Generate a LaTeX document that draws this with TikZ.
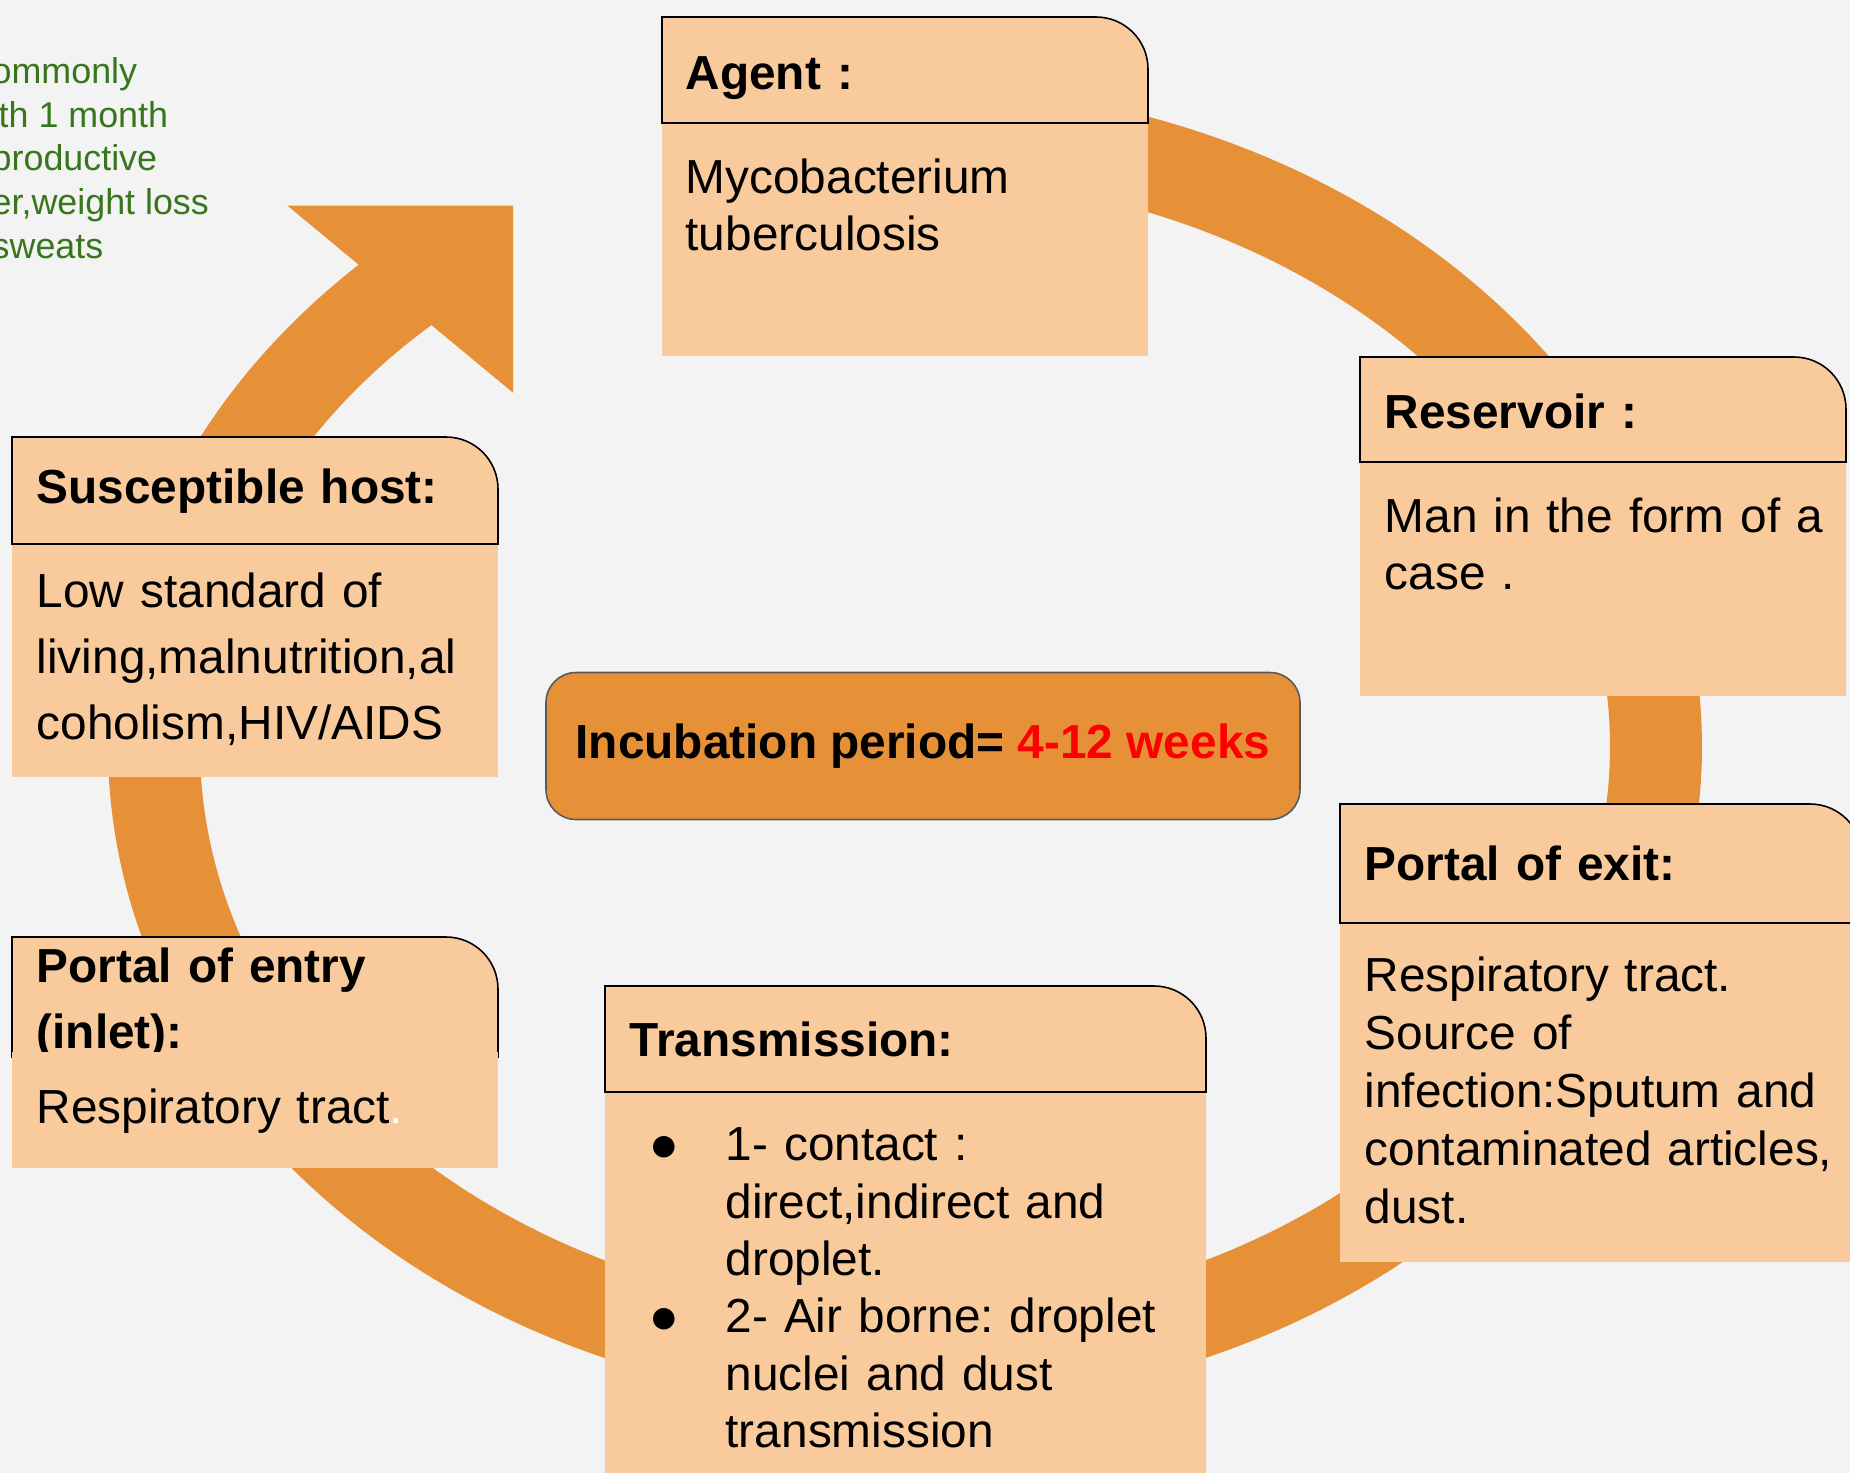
\documentclass[tikz,border=0pt]{standalone}
\usepackage{fontspec}
\setmainfont{Liberation Sans}
\newfontfamily\dingfont{DejaVu Sans}
\usepackage{tikz}

\definecolor{ringorange}{HTML}{E69138}
\definecolor{peach}{HTML}{F9CB9C}
\definecolor{pagegray}{HTML}{F3F3F3}
\definecolor{notegreen}{HTML}{38761D}
\definecolor{edgegray}{HTML}{595959}

\frenchspacing
\newcommand\cardfont{\fontsize{13.6}{16.3}\selectfont}
\newcommand\loosefont{\fontsize{13.6}{18.7}\selectfont}
\newcommand\bull{\makebox[7.4mm][l]{\raisebox{0.6mm}{\dingfont\fontsize{8}{8}\selectfont ●}}}
\newcommand\ind{\hspace*{7.4mm}}

% header strip of a card, only the top right corner is round
\newcommand\cardhead[4]{%
  \filldraw[cardline] (#1,#2+#4) -- (#1,#2) -- (#1+#3-52,#2)
    arc[start angle=90, end angle=0, radius=5.2mm] -- (#1+#3,#2+#4) -- cycle;}

\begin{document}
\begin{tikzpicture}[
  x=0.1mm, y=-0.1mm,
  ring/.style={draw=ringorange, line width=9.2mm},
  cardline/.style={draw=black, line width=0.45pt, fill=peach},
  cardbody/.style={fill=peach},
  cardtxt/.style={anchor=north west, inner sep=0pt, align=left,
                  text width=55mm, font=\cardfont,
                  execute at begin node={\rule{0pt}{4mm}}},
  cardtitle/.style={cardtxt, font=\cardfont\bfseries},
  incub/.style={draw=edgegray, line width=0.45pt, fill=ringorange,
                rounded corners=3mm, minimum width=75.4mm,
                minimum height=14.7mm, font=\cardfont\bfseries},
  note/.style={anchor=north west, inner sep=0pt, align=left,
               text=notegreen, font=\fontsize{10.2}{12.4}\selectfont,
               execute at begin node={\rule{0pt}{3mm}}}
]
  \useasboundingbox (0,0) rectangle (1850,1473);
  \clip (0,0) rectangle (1850,1473);
  \fill[pagegray] (0,0) rectangle (1850,1473);

  % the cycle with its arrow head
  \draw[ring] (839.5,133.8) arc[start angle=95, end angle=-230,
                                 x radius=75.1mm, y radius=61.45mm];
  \fill[ringorange] (287.5,205.7) -- (513,205.7) -- (513,392.7) -- cycle;

  % agent
  \cardhead{662}{17}{486}{106}
  \fill[cardbody] (662,124) rectangle (1148,356);
  \node[cardtitle] (agent) at (685,49) {Agent :};
  \node[cardtxt] (agenttxt) at (685,153) {Mycobacterium\\tuberculosis};

  % reservoir
  \cardhead{1360}{357}{486}{105}
  \fill[cardbody] (1360,463) rectangle (1846,696);
  \node[cardtitle] (reservoir) at (1384,388) {Reservoir :};
  \node[cardtxt] (reservoirtxt) at (1384,492) {Man in the form of a\\case .};

  % portal of exit
  \cardhead{1340}{804}{522}{119}
  \fill[cardbody] (1340,924) rectangle (1862,1262);
  \node[cardtitle] (exit) at (1364,840) {Portal of exit:};
  \node[cardtxt, font=\fontsize{13.6}{16.5}\selectfont] (exittxt) at (1364,951)
    {Respiratory tract.\\Source of\\infection:Sputum and\\contaminated articles,\\dust.};

  % transmission
  \cardhead{605}{986}{601}{106}
  \fill[cardbody] (605,1093) rectangle (1206,1500);
  \node[cardtitle] (trans) at (629,1016) {Transmission:};
  \node[cardtxt, font=\fontsize{13.6}{16.33}\selectfont] (transtxt) at (651,1120)
    {\bull 1- contact :\\\ind direct,indirect and\\\ind droplet.\\
     \bull 2- Air borne: droplet\\\ind nuclei and dust\\\ind transmission};

  % portal of entry
  \cardhead{12}{937}{486}{120}
  \node[cardtitle, font=\fontsize{13.6}{18.8}\selectfont\bfseries] (entry) at (36,942)
    {Portal of entry\\(inlet):};
  \fill[cardbody] (12,1052) rectangle (498,1168);
  \node[cardtxt] (entrytxt) at (36,1083) {Respiratory tract\textcolor{white}{.}};

  % susceptible host
  \cardhead{12}{437}{486}{107}
  \fill[cardbody] (12,545) rectangle (498,777);
  \node[cardtitle] (host) at (36,463) {Susceptible host:};
  \node[cardtxt, font=\loosefont] (hosttxt) at (36,567)
    {Low standard of\\living,malnutrition,al\\coholism,HIV/AIDS};

  % centre
  \node[incub] (incubation) at (923,746)
    {Incubation period= \textcolor{red}{4-12 weeks}};

  % note running off the left edge
  \node[note] (signs) at (-9,57)
    {ommonly\\\hspace*{0.7mm}th 1 month\\productive\\er,weight loss\\sweats};
\end{tikzpicture}
\end{document}
